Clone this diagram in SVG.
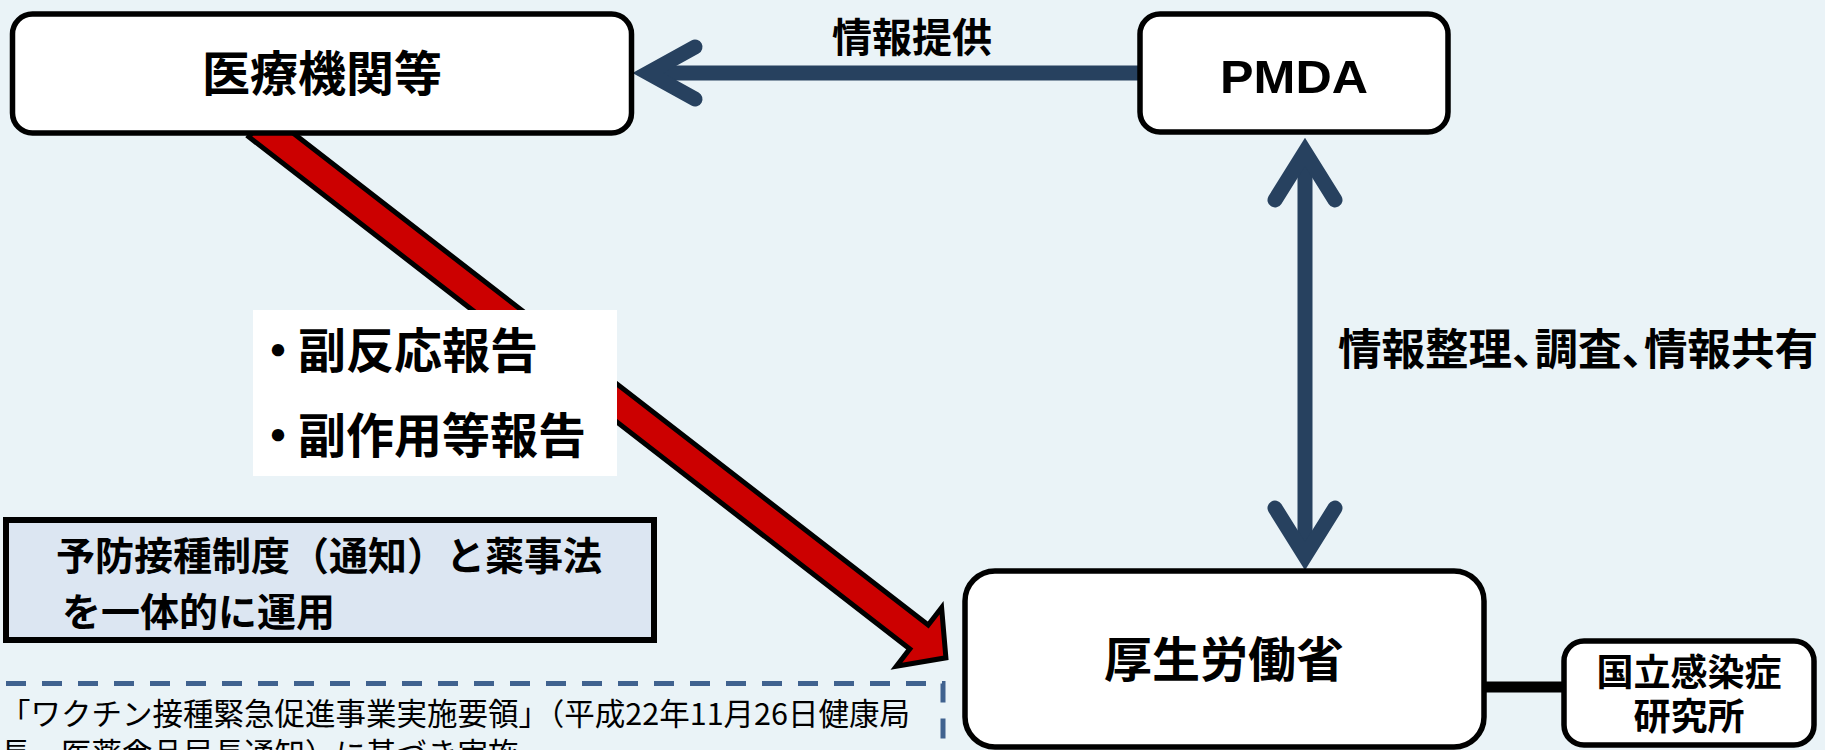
<svg xmlns="http://www.w3.org/2000/svg" width="1825" height="750" viewBox="0 0 1825 750">
<style>
.node{fill:#FFFFFF;stroke:#000000;stroke-width:5.5}
.jb{font-family:"Noto Sans CJK JP","Noto Sans CJK SC",sans-serif;font-weight:700;fill:#000000}
.jr{font-family:"Noto Sans CJK JP","Noto Sans CJK SC",sans-serif;font-weight:400;fill:#000000}
.navy{fill:none;stroke:#27415F;stroke-width:15}
.head{fill:none;stroke:#27415F;stroke-width:15;stroke-linecap:round;stroke-linejoin:miter;stroke-miterlimit:6}
</style>
<rect x="0" y="0" width="1825" height="750" fill="#EAF3F7"/>
<g id="connectors">
  <polygon id="report-arrow" points="267.2,113.1 928.2,625.1 941.6,607.7 945.9,657.8 896.4,666.3 909.8,648.9 248.8,136.9" fill="#CC0000" stroke="#000000" stroke-width="5" stroke-linejoin="miter"/>
  <g id="info-provide">
    <line class="navy" x1="660" y1="73" x2="1140" y2="73"/>
    <polyline class="head" points="695,47 648,73 695,99"/>
  </g>
  <g id="info-share">
    <line class="navy" x1="1305" y1="160" x2="1305" y2="548"/>
    <polyline class="head" points="1275,200 1305,152 1335,200"/>
    <polyline class="head" points="1275,508 1305,556 1335,508"/>
  </g>
  <line id="mhlw-niid" x1="1484" y1="687" x2="1564" y2="687" stroke="#000000" stroke-width="11"/>
</g>
<g id="label-report">
  <rect x="253" y="310" width="364" height="166" fill="#FFFFFF"/>
  <text class="jb" font-size="48" y="368"><tspan x="254">・</tspan><tspan dx="-4">副反応報告</tspan></text>
  <text class="jb" font-size="48" y="453"><tspan x="254">・</tspan><tspan dx="-4">副作用等報告</tspan></text>
</g>
<g id="label-info-provide">
  <text class="jb" font-size="40" x="912" y="52" text-anchor="middle">情報提供</text>
</g>
<g id="label-info-share">
  <text class="jb" font-size="43.5" x="1338" y="365">情報整理、<tspan dx="-21">調査、</tspan><tspan dx="-21">情報共有</tspan></text>
</g>
<g id="node-iryokikan">
  <rect class="node" x="12.5" y="14" width="619" height="119" rx="20"/>
  <text class="jb" font-size="48" x="322" y="90.5" text-anchor="middle">医療機関等</text>
</g>
<g id="node-pmda">
  <rect class="node" x="1140" y="14" width="308" height="118" rx="20"/>
  <text x="1220" y="93" font-family="'Liberation Sans',Arial,sans-serif" font-size="47" font-weight="700" textLength="148" lengthAdjust="spacingAndGlyphs" fill="#000000">PMDA</text>
</g>
<g id="node-mhlw">
  <rect class="node" x="965" y="571" width="519" height="176" rx="30"/>
  <text class="jb" font-size="48" x="1224" y="677" text-anchor="middle">厚生労働省</text>
</g>
<g id="node-niid">
  <rect class="node" x="1564" y="641" width="250" height="104" rx="20"/>
  <text class="jb" font-size="37" x="1689" y="686" text-anchor="middle">国立感染症</text>
  <text class="jb" font-size="37" x="1689" y="730" text-anchor="middle">研究所</text>
</g>
<g id="note-system">
  <rect x="6" y="520" width="648" height="120" fill="#DCE6F2" stroke="#000000" stroke-width="6"/>
  <text class="jb" font-size="39" x="56" y="570">予防接種制度（通知）と薬事法</text>
  <text class="jb" font-size="39" x="62" y="626">を一体的に運用</text>
</g>
<g id="note-basis">
  <path d="M6 683.5 H943 V760" fill="none" stroke="#40628F" stroke-width="5" stroke-dasharray="20 16"/>
  <text class="jr" font-size="30.5" x="0" y="725" textLength="910" lengthAdjust="spacing">「ワクチン接種緊急促進事業実施要領」（平成22年11月26日健康局</text>
  <text class="jr" font-size="30.5" x="0" y="765">長、医薬食品局長通知）に基づき実施</text>
</g>
</svg>
